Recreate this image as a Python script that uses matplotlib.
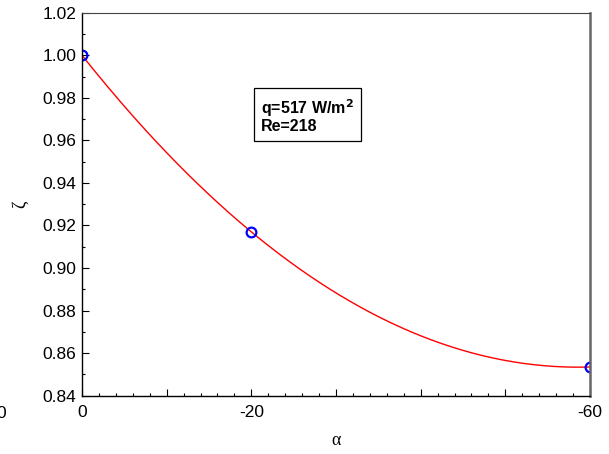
import matplotlib.pyplot as plt
import matplotlib as mplt
import numpy as np
from matplotlib.ticker import MultipleLocator, FixedLocator, FixedFormatter

mplt.rcParams['font.family'] = ['Liberation Sans', 'DejaVu Sans']

# data
alpha = [0, -20, -60]
zeta = [1.000, 0.917, 0.8535]
xtick_pos = [0, -10, -20, -30, -40, -50, -60]
xtick_lab = ['0', '', '-20', '', '', '', '-60']
yticks = [0.84, 0.86, 0.88, 0.90, 0.92, 0.94, 0.96, 0.98, 1.00, 1.02]

# quadratic fit through the points (red line)
coef = np.polyfit(alpha, zeta, 2)
xs = np.linspace(0, -60, 200)
ys = np.polyval(coef, xs)

fig = plt.figure(figsize=(6.09, 4.54), dpi=100)
ax = fig.add_axes([0.1346, 0.1284, 0.8342, 0.8436])

ax.plot(xs, ys, color='red', lw=1.0)
ax.plot(alpha, zeta, 'o', mfc='none', mec='blue', mew=1.6, ms=7)

ax.set_xlim(0, -60)
ax.set_ylim(0.84, 1.02)
ax.xaxis.set_major_locator(FixedLocator(xtick_pos))
ax.xaxis.set_major_formatter(FixedFormatter(xtick_lab))
ax.xaxis.set_minor_locator(MultipleLocator(2))
ax.set_yticks(yticks)
ax.set_yticklabels(['%.2f' % v for v in yticks])
ax.yaxis.set_minor_locator(MultipleLocator(0.01))

ax.tick_params(which='both', direction='in', top=False, right=False,
               labelsize=12.5, width=0.8)
ax.tick_params(axis='x', pad=7)
ax.tick_params(axis='y', pad=4)
ax.tick_params(which='major', length=5)
ax.tick_params(which='minor', length=2.5)

for s in ['left', 'bottom']:
    ax.spines[s].set_linewidth(1.0)
ax.spines['top'].set_color('#444444')
ax.spines['right'].set_color('#666666')
ax.spines['right'].set_linewidth(1.8)

ax.set_xlabel('α', fontsize=13, family='Liberation Serif', labelpad=8)
ax.set_ylabel('ζ', fontsize=13, family='Liberation Serif', labelpad=10)

ax.text(0.352, 0.78, 'q=517 W/m$^\\mathbf{2}$\nRe=218', transform=ax.transAxes,
        fontsize=11.5, fontweight='bold', va='top', ha='left', linespacing=1.0,
        bbox=dict(boxstyle='square,pad=0.45', fc='white', ec='black', lw=0.9))

# stray label at the left edge
fig.text(0.002, 0.09, '0', fontsize=12.5, ha='center', va='center')

fig.savefig('out.png', dpi=100)
